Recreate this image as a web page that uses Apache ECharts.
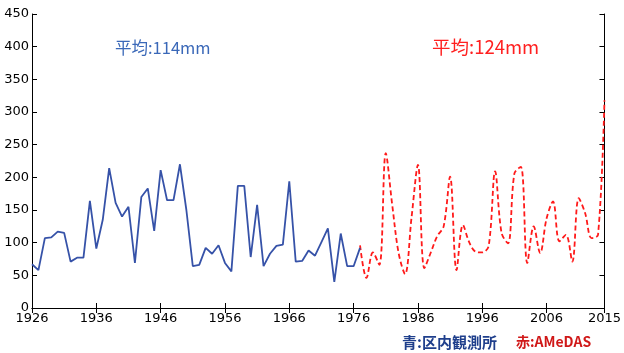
<!DOCTYPE html>
<html>
<head>
<meta charset="utf-8">
<script src="https://cdn.jsdelivr.net/npm/echarts@6/dist/echarts.min.js"></script>
<style>
  html, body { margin: 0; padding: 0; background: #fff; }
  #chart { width: 624px; height: 353px; }
</style>
</head>
<body>
<div id="chart"></div>
<script>
// 区内観測所 (blue): 1926-1977
const blueStart = 1926;
const blueValues = [
  67, 58, 107, 108, 117, 115, 71, 77, 77, 164,
  91, 135, 214, 161, 140, 155, 69, 170, 183, 118,
  211, 165, 165, 220, 150, 64, 66, 92, 83, 96,
  69, 56, 187, 187, 78, 158, 64, 83, 95, 97,
  194, 71, 72, 88, 80, 101, 122, 40, 114, 64,
  64, 92
];

// AMeDAS (red): 1977-2015
const redStart = 1977;
const redValues = [
  96, 46, 85, 66, 237, 158, 84, 52, 138, 219,
  61, 85, 110, 125, 201, 58, 127, 100, 86, 85,
  95, 209, 115, 99, 206, 216, 69, 125, 84, 137,
  163, 102, 112, 71, 168, 145, 107, 112, 318
];

const yTicks = { min: 0, max: 450, step: 50 };
const xRange = { min: 1926, max: 2015, step: 10 };

const toPairs = (start, vals) => vals.map((v, i) => [start + i, v]);

const chart = echarts.init(document.getElementById('chart'));

const tickFont = { fontFamily: 'DejaVu Sans', fontSize: 13, color: '#000' };
const boxLine = { show: true, lineStyle: { color: '#000', width: 1 } };

chart.setOption({
  animation: false,
  grid: { left: 32, right: 14, top: 14, bottom: 45 },
  xAxis: [
    {
      type: 'value', min: xRange.min, max: xRange.max, interval: xRange.step,
      axisLine: boxLine,
      axisTick: { show: true, inside: true, length: 5, lineStyle: { color: '#000' } },
      axisLabel: Object.assign({ margin: 4, formatter: v => String(v) }, tickFont),
      splitLine: { show: false }
    },
    {
      type: 'value', position: 'top', min: xRange.min, max: xRange.max, interval: xRange.step,
      axisLine: boxLine,
      axisTick: { show: true, inside: true, length: 5, lineStyle: { color: '#000' } },
      axisLabel: { show: false },
      splitLine: { show: false }
    }
  ],
  yAxis: [
    {
      type: 'value', min: yTicks.min, max: yTicks.max, interval: yTicks.step,
      axisLine: boxLine,
      axisTick: { show: true, inside: true, length: 5, lineStyle: { color: '#000' } },
      axisLabel: Object.assign({ margin: 3 }, tickFont),
      splitLine: { show: false }
    },
    {
      type: 'value', position: 'right', min: yTicks.min, max: yTicks.max, interval: yTicks.step,
      axisLine: boxLine,
      axisTick: { show: true, inside: true, length: 5, lineStyle: { color: '#000' } },
      axisLabel: { show: false },
      splitLine: { show: false }
    }
  ],
  series: [
    {
      name: '区内観測所',
      type: 'line',
      data: toPairs(blueStart, blueValues),
      showSymbol: false,
      lineStyle: { color: '#3652a8', width: 1.8 },
      z: 3
    },
    {
      name: 'AMeDAS',
      type: 'line',
      data: toPairs(redStart, redValues),
      smooth: 0.35,
      showSymbol: false,
      lineStyle: { color: '#ff1a1a', width: 1.8, type: [5, 3] },
      z: 2
    }
  ],
  graphic: [
    {
      type: 'text', left: 115, top: 39,
      style: { text: '平均:114mm', fill: '#3a68b8', font: '16.5px "Noto Sans CJK JP"' }
    },
    {
      type: 'text', left: 432, top: 38,
      style: { text: '平均:124mm', fill: '#ff2020', font: '18.5px "Noto Sans CJK JP"' }
    },
    {
      type: 'text', left: 402, top: 335,
      style: { text: '青:区内観測所', fill: '#1f3f8c', font: 'bold 15px "Noto Sans CJK JP"' }
    },
    {
      type: 'text', left: 516, top: 335,
      style: { text: '赤:AMeDAS', fill: '#d01818', font: 'bold 14px "Noto Sans CJK JP"' }
    }
  ]
});
</script>
</body>
</html>
